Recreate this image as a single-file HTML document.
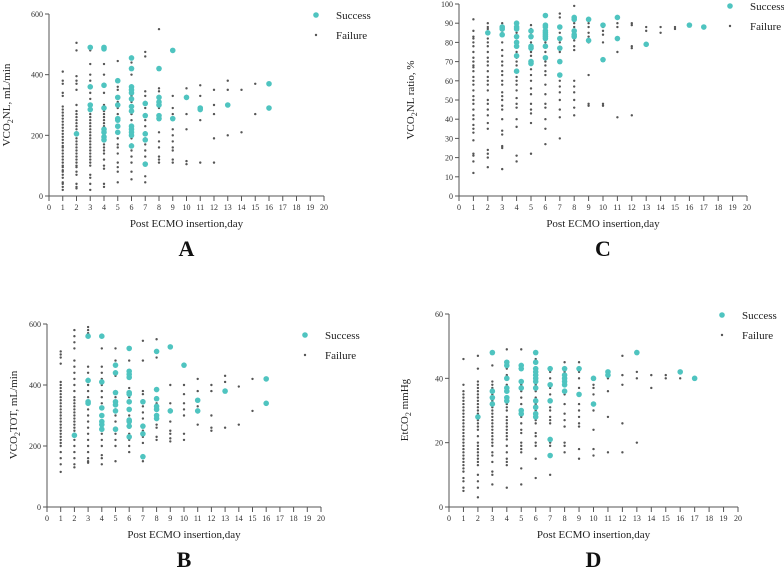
<!DOCTYPE html>
<html><head><meta charset="utf-8"><style>
html,body{margin:0;padding:0;background:#fff;}
svg{display:block;font-family:"Liberation Serif",serif;}
</style></head><body>
<svg id="chart" width="784" height="568" viewBox="0 0 784 568" xmlns="http://www.w3.org/2000/svg"></svg>
<script>
// ---------- Panel A: VCO2NL (mL/min) ----------
const aFailure = {1:[20,30,40,45,60,70,80,85,95,100,110,120,130,140,150,160,165,175,185,195,205,215,225,235,245,255,265,275,285,295,330,340,370,380,410],
2:[25,30,40,70,80,95,100,110,120,130,140,150,160,170,180,190,200,210,220,230,240,250,260,270,280,300,350,370,380,395,480,505],
3:[20,40,60,70,100,110,120,130,140,150,160,170,180,190,200,210,220,230,240,250,260,270,280,300,320,340,360,380,400,435,480],
4:[30,40,90,100,120,140,150,160,170,180,190,200,210,220,230,240,250,260,270,280,300,340,370,400,435],
5:[45,80,95,110,140,160,170,190,210,230,250,270,290,310,350,360,445],
6:[55,80,110,130,150,170,190,210,230,250,270,290,310,330,400,440],
7:[45,65,110,130,150,170,190,210,230,250,270,290,310,330,345,460,475],
8:[110,120,130,160,180,210,260,290,310,330,345,355,550],
9:[110,120,150,160,180,200,220,270,290,330],
10:[105,115,220,270,330,355],11:[110,250,330,365],12:[110,190,270,300,350],13:[200,350,380],14:[210,350],15:[270,370]};
const aSuccess = {2:[205],3:[490,360,300,285],4:[490,485,365,290,220,210,195,185],5:[380,325,300,255,250,230,210],
6:[455,420,360,350,340,320,295,280,230,220,210,200,165],7:[305,265,205,185,105],8:[420,325,310,300,265,255],
9:[480,255],10:[325],11:[290,285],13:[300],16:[370,290]};
const aTicks = [0,200,400,600];

// ---------- Panel C: VCO2NL ratio (%) ----------
const cFailure = {1:[12,18,21,22,29,33,35,37,40,42,45,48,50,52,55,58,60,62,65,67,68,70,72,75,78,80,82,83,86,92],
2:[15,20,22,24,35,38,42,45,48,50,55,58,60,62,65,68,70,72,75,78,80,82,85,87,88,90],
3:[14,25,26,32,34,40,45,47,50,52,54,58,60,63,65,68,70,73,76,80,85,88,90],
4:[18,21,36,40,46,48,51,55,58,60,62,65,68,70,72,75,80,85,88,90],
5:[22,38,43,45,48,53,56,60,63,66,70,73,75,78,80,85,87,89],
6:[27,35,40,46,48,53,58,63,65,68,70,75,80,82,85,88],
7:[30,41,45,50,54,57,60,75,80,85,88,93,95],
8:[42,46,50,54,57,60,76,78,81,85,88,90,99],
9:[47,48,63,80,83,85,88,90],10:[47,48,80,84,86,88],11:[41,75,88,90],12:[42,77,78,89,90],13:[79,86,88],14:[85,88],15:[87,88]};
const cSuccess = {2:[85],3:[88,87,84],4:[90,88,87,83,80,78,73,65],5:[86,83,78,77,70,69],6:[94,89,88,86,85,84,83,82,78,72],
7:[88,82,77,70,63],8:[93,92,86,84,83],9:[92,81],10:[89,71],11:[93,82],13:[79],16:[89],17:[88]};
const cTicks = [0,10,20,30,40,50,60,70,80,90,100];

// ---------- Panel B: VCO2TOT (mL/min) ----------
const bFailure = {1:[115,140,160,180,200,210,220,230,240,250,260,270,280,290,300,310,320,330,340,350,360,370,380,390,400,410,470,490,500,510],
2:[130,140,160,180,200,220,240,250,260,270,280,290,300,310,320,330,340,350,360,380,400,420,440,460,480,520,540,560,580],
3:[145,150,160,180,200,220,240,260,280,300,320,340,360,380,400,420,440,460,570,580,590],
4:[140,160,170,200,220,240,260,280,300,320,340,360,380,400,420,440,460,520],
5:[150,200,220,240,260,280,300,320,340,360,380,430,440,470,480,520],
6:[180,200,220,240,260,280,300,320,340,360,390,420,480],
7:[150,160,210,230,250,270,290,310,330,350,370,380,480,545],
8:[220,230,260,270,300,320,340,360,490,550],
9:[215,225,240,250,280,320,340,400],10:[220,240,300,320,340,370,400],11:[270,310,330,380,420],
12:[250,260,300,380,400],13:[260,410,430],14:[270,395],15:[315,420],16:[335]};
const bSuccess = {2:[235],3:[560,415,345,340],4:[560,410,325,300,280,270,255],5:[465,440,375,345,335,315,255],
6:[520,445,435,425,375,370,345,320,285,280,265,230],7:[345,265,240,165],8:[510,385,355,330,320,300,290],
9:[525,315],10:[465],11:[350,315],13:[380],16:[420,340]};
const bTicks = [0,200,400,600];

// ---------- Panel D: EtCO2 (mmHg) ----------
const dFailure = {1:[5,6,8,9,11,12,13,14,15,16,17,18,19,20,21,22,23,24,25,26,27,28,29,30,31,32,33,34,35,36,38,46],
2:[3,6,8,10,13,14,15,16,17,18,19,20,22,24,25,26,27,28,29,30,31,32,33,34,35,36,37,38,39,43,47],
3:[7,10,11,14,16,17,19,20,21,22,23,24,25,26,27,28,29,30,31,32,33,35,37,38,39,44],
4:[6,13,14,15,17,19,21,22,23,24,25,26,27,28,30,31,32,34,36,38,41,43,49],
5:[7,12,17,18,19,20,23,24,26,28,30,32,34,36,38,49],
6:[9,15,19,20,22,23,26,27,30,32,34,36,38,40,42,46],
7:[10,19,20,26,27,28,30,31,33,35,37,40,42],
8:[17,19,20,25,27,29,32,35,40,42,45],
9:[15,18,25,26,28,30,32,37,40,42,45],10:[16,18,24,30,35,37,38],11:[17,28,36,40,41],
12:[17,26,38,41,47],13:[20,40,42],14:[37,41],15:[40,41],16:[40]};
const dSuccess = {2:[28],3:[48,36,34,32],4:[45,44,40,37,36,34,33],5:[44,43,39,37,30,29],
6:[48,45,43,42,41,40,39,37,33,31,29,28],7:[43,38,33,21,16],8:[43,41,40,39,38,36],9:[43,35],10:[40,32],11:[42,41],13:[48],16:[42],17:[40]};
const dTicks = [0,20,40,60];

const xTicks = [0,1,2,3,4,5,6,7,8,9,10,11,12,13,14,15,16,17,18,19,20];

const NS = "http://www.w3.org/2000/svg";
const svg = document.getElementById('chart');
function mk(tag, attrs, parent){
  const e = document.createElementNS(NS, tag);
  for (const k in attrs) e.setAttribute(k, attrs[k]);
  (parent||svg).appendChild(e);
  return e;
}

function panel(p){
  const g = mk('g', {});
  
  
  const xS = v => p.x0 + (p.x1 - p.x0) * v / 20;
  const yS = v => p.y0 - (p.y0 - p.y1) * v / p.ymax;
  // axes
  const ya = mk('line', {x1:p.x0, y1:p.y0, x2:p.x0, y2:p.y1, stroke:'#555', 'stroke-width':1}, g);
  
  
  const xa = mk('line', {x1:p.x0, y1:p.y0, x2:p.x1, y2:p.y0, stroke:'#555', 'stroke-width':1}, g);
  
  
  p.yTicks.forEach(v => {
    mk('line', {x1:p.x0-4, y1:yS(v), x2:p.x0, y2:yS(v), stroke:'#555'}, g);
    const t = mk('text', {x:p.x0-6, y:yS(v)+3, 'font-size':8, 'text-anchor':'end', fill:'#333'}, g);
    t.textContent = v;
    
    
  });
  xTicks.forEach(v => {
    mk('line', {x1:xS(v), y1:p.y0, x2:xS(v), y2:p.y0+5, stroke:'#555'}, g);
    const t = mk('text', {x:xS(v), y:p.y0+14, 'font-size':8, 'text-anchor':'middle', fill:'#333'}, g);
    t.textContent = v;
    
    
  });
  const xt = mk('text', {x:(p.x0+p.x1)/2, y:p.y0+31, 'font-size':11, 'text-anchor':'middle', fill:'#222'}, g);
  xt.textContent = 'Post ECMO insertion,day';
  
  
  const yt = mk('text', {x:0, y:0, 'font-size':11, 'text-anchor':'middle', fill:'#222', transform:`translate(${p.ytx},${p.yty}) rotate(-90)`}, g);
  yt.innerHTML = p.ytitle;
  
  
  const lt = mk('text', {x:(p.x0+p.x1)/2, y:p.y0+60, 'font-size':22, 'font-weight':'bold', 'text-anchor':'middle', fill:'#111'}, g);
  lt.textContent = p.id;
  
  
  // failure points
  for (const d in p.fail) p.fail[d].forEach(v => {
    const c = mk('circle', {cx:xS(+d), cy:yS(v), r:1.2, fill:'#555'}, g);
    
    
  });
  for (const d in p.succ) p.succ[d].forEach(v => {
    const c = mk('circle', {cx:xS(+d), cy:yS(v), r:2.8, fill:'#4fc4c0'}, g);
    
    
  });
  // legend
  const ls = mk('circle', {cx:p.lx, cy:p.ly, r:2.8, fill:'#4fc4c0'}, g);
  
  
  const lst = mk('text', {x:p.lx+20, y:p.ly+4, 'font-size':11, fill:'#222'}, g);
  lst.textContent = 'Success';
  
  
  const lf = mk('circle', {cx:p.lx, cy:p.ly+20, r:1.2, fill:'#555'}, g);
  
  
  const lft = mk('text', {x:p.lx+20, y:p.ly+24, 'font-size':11, fill:'#222'}, g);
  lft.textContent = 'Failure';
  
  
}

const sub2 = '<tspan font-size="8" dy="3">2</tspan><tspan dy="-3">';
panel({id:'A', x0:49, x1:324, y0:196, y1:14, ymax:600, yTicks:aTicks, fail:aFailure, succ:aSuccess,
  ytx:10, yty:105, ytitle:'VCO'+sub2+'NL, mL/min</tspan>', lx:316, ly:15});
panel({id:'C', x0:459, x1:747, y0:196, y1:4, ymax:100, yTicks:cTicks, fail:cFailure, succ:cSuccess,
  ytx:414, yty:100, ytitle:'VCO'+sub2+'NL ratio, %</tspan>', lx:730, ly:6});
panel({id:'B', x0:47, x1:321, y0:507, y1:324, ymax:600, yTicks:bTicks, fail:bFailure, succ:bSuccess,
  ytx:17, yty:415, ytitle:'VCO'+sub2+'TOT, mL/min</tspan>', lx:305, ly:335});
panel({id:'D', x0:449, x1:738, y0:507, y1:314, ymax:60, yTicks:dTicks, fail:dFailure, succ:dSuccess,
  ytx:408, yty:410, ytitle:'EtCO'+sub2+' mmHg</tspan>', lx:722, ly:315});
</script>
</body></html>
